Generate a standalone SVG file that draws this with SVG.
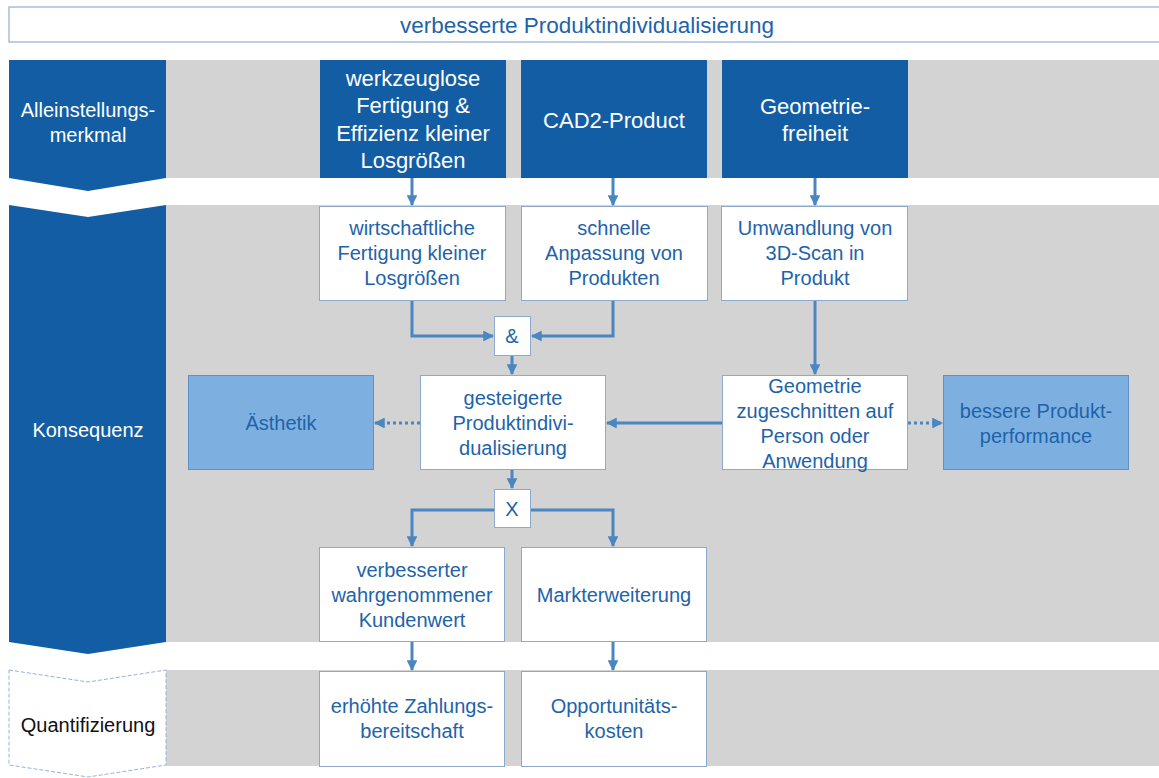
<svg xmlns="http://www.w3.org/2000/svg" width="1159" height="778" viewBox="0 0 1159 778">
<defs>
<style>
text{font-family:"Liberation Sans",Arial,sans-serif;text-anchor:middle}
.band{fill:#d3d3d3}
.chev{fill:#125da4}
.chevq{fill:#ffffff;stroke:#8fb5dc;stroke-width:1;stroke-dasharray:4 2}
.lbl{font-size:20px;fill:#ffffff}
.lblq{font-size:20px;fill:#111111}
.usp{fill:#125da4}
.uspt{font-size:22px;fill:#ffffff}
.box{fill:#ffffff;stroke:#8da9cc;stroke-width:1}
.lbox{fill:#7db0e0;stroke:#5e92c6;stroke-width:1}
.t{font-size:20px;fill:#1e63aa}
.ln{fill:none;stroke:#4a86c0;stroke-width:3}
.dot{fill:none;stroke:#4a86c0;stroke-width:3;stroke-dasharray:3 3}
</style>
<marker id="ah" viewBox="0 0 10 10" refX="9" refY="5" markerWidth="3.6" markerHeight="3.6" markerUnits="strokeWidth" orient="auto">
<path d="M0,0 L10,5 L0,10 z" fill="#4a86c0"/>
</marker>
</defs>
<rect width="1159" height="778" fill="#ffffff"/>
<g id="title">
<rect x="9" y="7" width="1155" height="35" fill="#ffffff" stroke="#7f9cc0" stroke-width="1"/>
<text x="587" y="33" style="font-size:22.5px;fill:#1e63aa">verbesserte Produktindividualisierung</text>
</g>
<g id="bands">
<rect class="band" x="166" y="60" width="993" height="118"/>
<rect class="band" x="166" y="205" width="993" height="437"/>
<rect class="band" x="166" y="670" width="993" height="96"/>
</g>
<g id="row-alleinstellungsmerkmal">
<path class="chev" d="M9,60 H166 V178 L88,191 L9,178 Z"/>
<text class="lbl" x="88" y="117">Alleinstellungs-</text>
<text class="lbl" x="88" y="142">merkmal</text>
</g>
<g id="row-konsequenz">
<path class="chev" d="M9,205 L88,217 L166,205 V642 L88,654 L9,642 Z"/>
<text class="lbl" x="88" y="437">Konsequenz</text>
</g>
<g id="row-quantifizierung">
<path class="chevq" d="M9,670 L88,682 L166,670 V765 L88,777 L9,765 Z"/>
<text class="lblq" x="88" y="732">Quantifizierung</text>
</g>
<g id="connectors">
<path class="ln" marker-end="url(#ah)" d="M412,178 V205"/>
<path class="ln" marker-end="url(#ah)" d="M613,178 V205"/>
<path class="ln" marker-end="url(#ah)" d="M815,178 V205"/>
<path class="ln" marker-end="url(#ah)" d="M412,300 V336 H493"/>
<path class="ln" marker-end="url(#ah)" d="M613,300 V336 H532"/>
<path class="ln" marker-end="url(#ah)" d="M512,356 V374"/>
<path class="ln" marker-end="url(#ah)" d="M815,300 V374"/>
<path class="ln" marker-end="url(#ah)" d="M722,423 H607"/>
<path class="dot" marker-end="url(#ah)" d="M420,423 H375"/>
<path class="dot" marker-end="url(#ah)" d="M908,423 H942"/>
<path class="ln" marker-end="url(#ah)" d="M512,470 V488"/>
<path class="ln" marker-end="url(#ah)" d="M494,510 H412 V546"/>
<path class="ln" marker-end="url(#ah)" d="M531,510 H613 V546"/>
<path class="ln" marker-end="url(#ah)" d="M412,642 V670"/>
<path class="ln" marker-end="url(#ah)" d="M613,642 V670"/>
</g>
<g id="usp1">
<rect class="usp" x="320" y="60" width="186" height="118"/>
<text class="uspt" x="413" y="86">werkzeuglose</text>
<text class="uspt" x="413" y="113">Fertigung &amp;</text>
<text class="uspt" x="413" y="141">Effizienz kleiner</text>
<text class="uspt" x="413" y="168">Losgrößen</text>
</g>
<g id="usp2">
<rect class="usp" x="521" y="60" width="186" height="118"/>
<text class="uspt" x="614" y="128">CAD2-Product</text>
</g>
<g id="usp3">
<rect class="usp" x="722" y="60" width="186" height="118"/>
<text class="uspt" x="815" y="114">Geometrie-</text>
<text class="uspt" x="815" y="141">freiheit</text>
</g>
<g id="k-wirtschaftlich">
<rect class="box" x="319.500" y="206.500" width="186" height="94"/>
<text class="t" x="412" y="235">wirtschaftliche</text>
<text class="t" x="412" y="260">Fertigung kleiner</text>
<text class="t" x="412" y="285">Losgrößen</text>
</g>
<g id="k-anpassung">
<rect class="box" x="521.500" y="206.500" width="186" height="94"/>
<text class="t" x="614" y="235">schnelle</text>
<text class="t" x="614" y="260">Anpassung von</text>
<text class="t" x="614" y="285">Produkten</text>
</g>
<g id="k-umwandlung">
<rect class="box" x="721.500" y="206.500" width="186" height="94"/>
<text class="t" x="815" y="235">Umwandlung von</text>
<text class="t" x="815" y="260">3D-Scan in</text>
<text class="t" x="815" y="285">Produkt</text>
</g>
<g id="and">
<rect class="box" x="494.500" y="316.500" width="36" height="39"/>
<text class="t" x="512" y="343">&amp;</text>
</g>
<g id="k-gesteigert">
<rect class="box" x="420.500" y="375.500" width="185" height="94"/>
<text class="t" x="513" y="405">gesteigerte</text>
<text class="t" x="513" y="430">Produktindivi-</text>
<text class="t" x="513" y="455">dualisierung</text>
</g>
<g id="k-aesthetik">
<rect class="lbox" x="188.500" y="375.500" width="185" height="94"/>
<text class="t" x="281" y="430">Ästhetik</text>
</g>
<g id="k-geometrie">
<rect class="box" x="722.500" y="375.500" width="185" height="94"/>
<text class="t" x="815" y="393">Geometrie</text>
<text class="t" x="815" y="418">zugeschnitten auf</text>
<text class="t" x="815" y="443">Person oder</text>
<text class="t" x="815" y="468">Anwendung</text>
</g>
<g id="k-performance">
<rect class="lbox" x="943.500" y="375.500" width="185" height="94"/>
<text class="t" x="1036" y="418">bessere Produkt-</text>
<text class="t" x="1036" y="443">performance</text>
</g>
<g id="xor">
<rect class="box" x="494.500" y="489.500" width="36" height="38"/>
<text class="t" x="512" y="516">X</text>
</g>
<g id="k-kundenwert">
<rect class="box" x="319.500" y="547.500" width="185" height="94"/>
<text class="t" x="412" y="577">verbesserter</text>
<text class="t" x="412" y="602">wahrgenommener</text>
<text class="t" x="412" y="627">Kundenwert</text>
</g>
<g id="k-markt">
<rect class="box" x="521.500" y="547.500" width="185" height="94"/>
<text class="t" x="614" y="602">Markterweiterung</text>
</g>
<g id="q-zahlung">
<rect class="box" x="319.500" y="671.500" width="185" height="95"/>
<text class="t" x="412" y="713">erhöhte Zahlungs-</text>
<text class="t" x="412" y="738">bereitschaft</text>
</g>
<g id="q-opportunitaet">
<rect class="box" x="521.500" y="671.500" width="185" height="95"/>
<text class="t" x="614" y="713">Opportunitäts-</text>
<text class="t" x="614" y="738">kosten</text>
</g>
</svg>
